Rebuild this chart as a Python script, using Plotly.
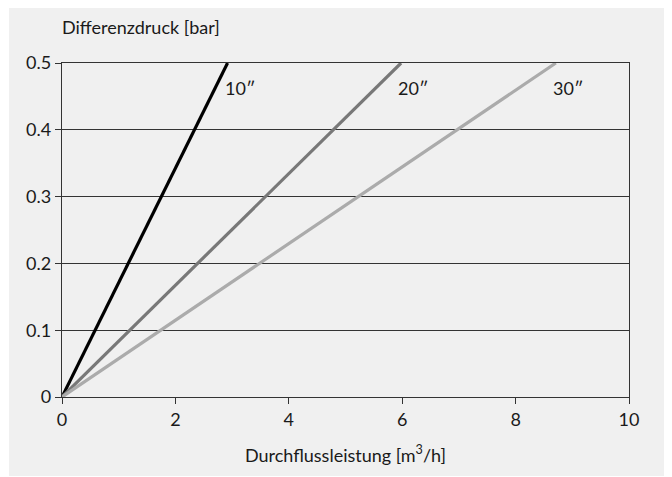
import plotly.graph_objects as go

series_names = ['10″', '20″', '30″']
series_flow = [[0, 2.92], [0, 5.98], [0, 8.71]]
series_dp = [[0, 0.5], [0, 0.5], [0, 0.5]]
series_colors = ['#000000', '#787878', '#ababab']
x_ticks = [0, 2, 4, 6, 8, 10]
y_ticks = [0, 0.1, 0.2, 0.3, 0.4, 0.5]

font = "Lato"
fs = 18
fig = go.Figure()
for name, xs, ys, c in zip(series_names, series_flow, series_dp, series_colors):
    fig.add_trace(go.Scatter(x=xs, y=ys, mode='lines', line=dict(color=c, width=3.2),
                             name=name, showlegend=False, cliponaxis=True))
    fig.add_annotation(x=xs[-1], y=ys[-1], xref='x', yref='y', text=name, showarrow=False,
                       xanchor='left', yanchor='middle', xshift=-5, yshift=-25,
                       font=dict(family=font, size=fs, color='#1a1a1a'))

# plot area: 567 x 334 px
fig.add_shape(type='rect', xref='paper', yref='paper', x0=-53/567, x1=1.2, y0=-79/334, y1=1.3,
              fillcolor='#f0f0f0', line=dict(width=0), layer='below')

fig.add_annotation(xref='paper', yref='paper', x=0, y=1 + 36/334, text='Differenzdruck [bar]',
                   showarrow=False, xanchor='left', yanchor='middle', xshift=-2,
                   font=dict(family=font, size=fs, color='#1a1a1a'))

fig.update_layout(
    width=672, height=477,
    margin=dict(l=54, r=51, t=55, b=88),
    paper_bgcolor='white', plot_bgcolor='rgba(0,0,0,0)',
    font=dict(family=font, size=fs, color='#1a1a1a'),
)
fig.update_xaxes(range=[0, 10], tickvals=x_ticks, showgrid=False, zeroline=False,
                 showline=True, linecolor='#333', linewidth=1.3, mirror=True,
                 ticks='outside', ticklen=6, tickcolor='#333', automargin=False,
                 title=dict(text='Durchflussleistung [m<sup>3</sup>/h]', standoff=20,
                            font=dict(family=font, size=fs)))
fig.update_yaxes(range=[0, 0.5], tickvals=y_ticks, showgrid=True, gridcolor='#333', gridwidth=1,
                 zeroline=False, showline=True, linecolor='#333', linewidth=1.3, mirror=True,
                 ticks='outside', ticklen=6, tickcolor='#333', automargin=False)
fig.write_html("out.html")
